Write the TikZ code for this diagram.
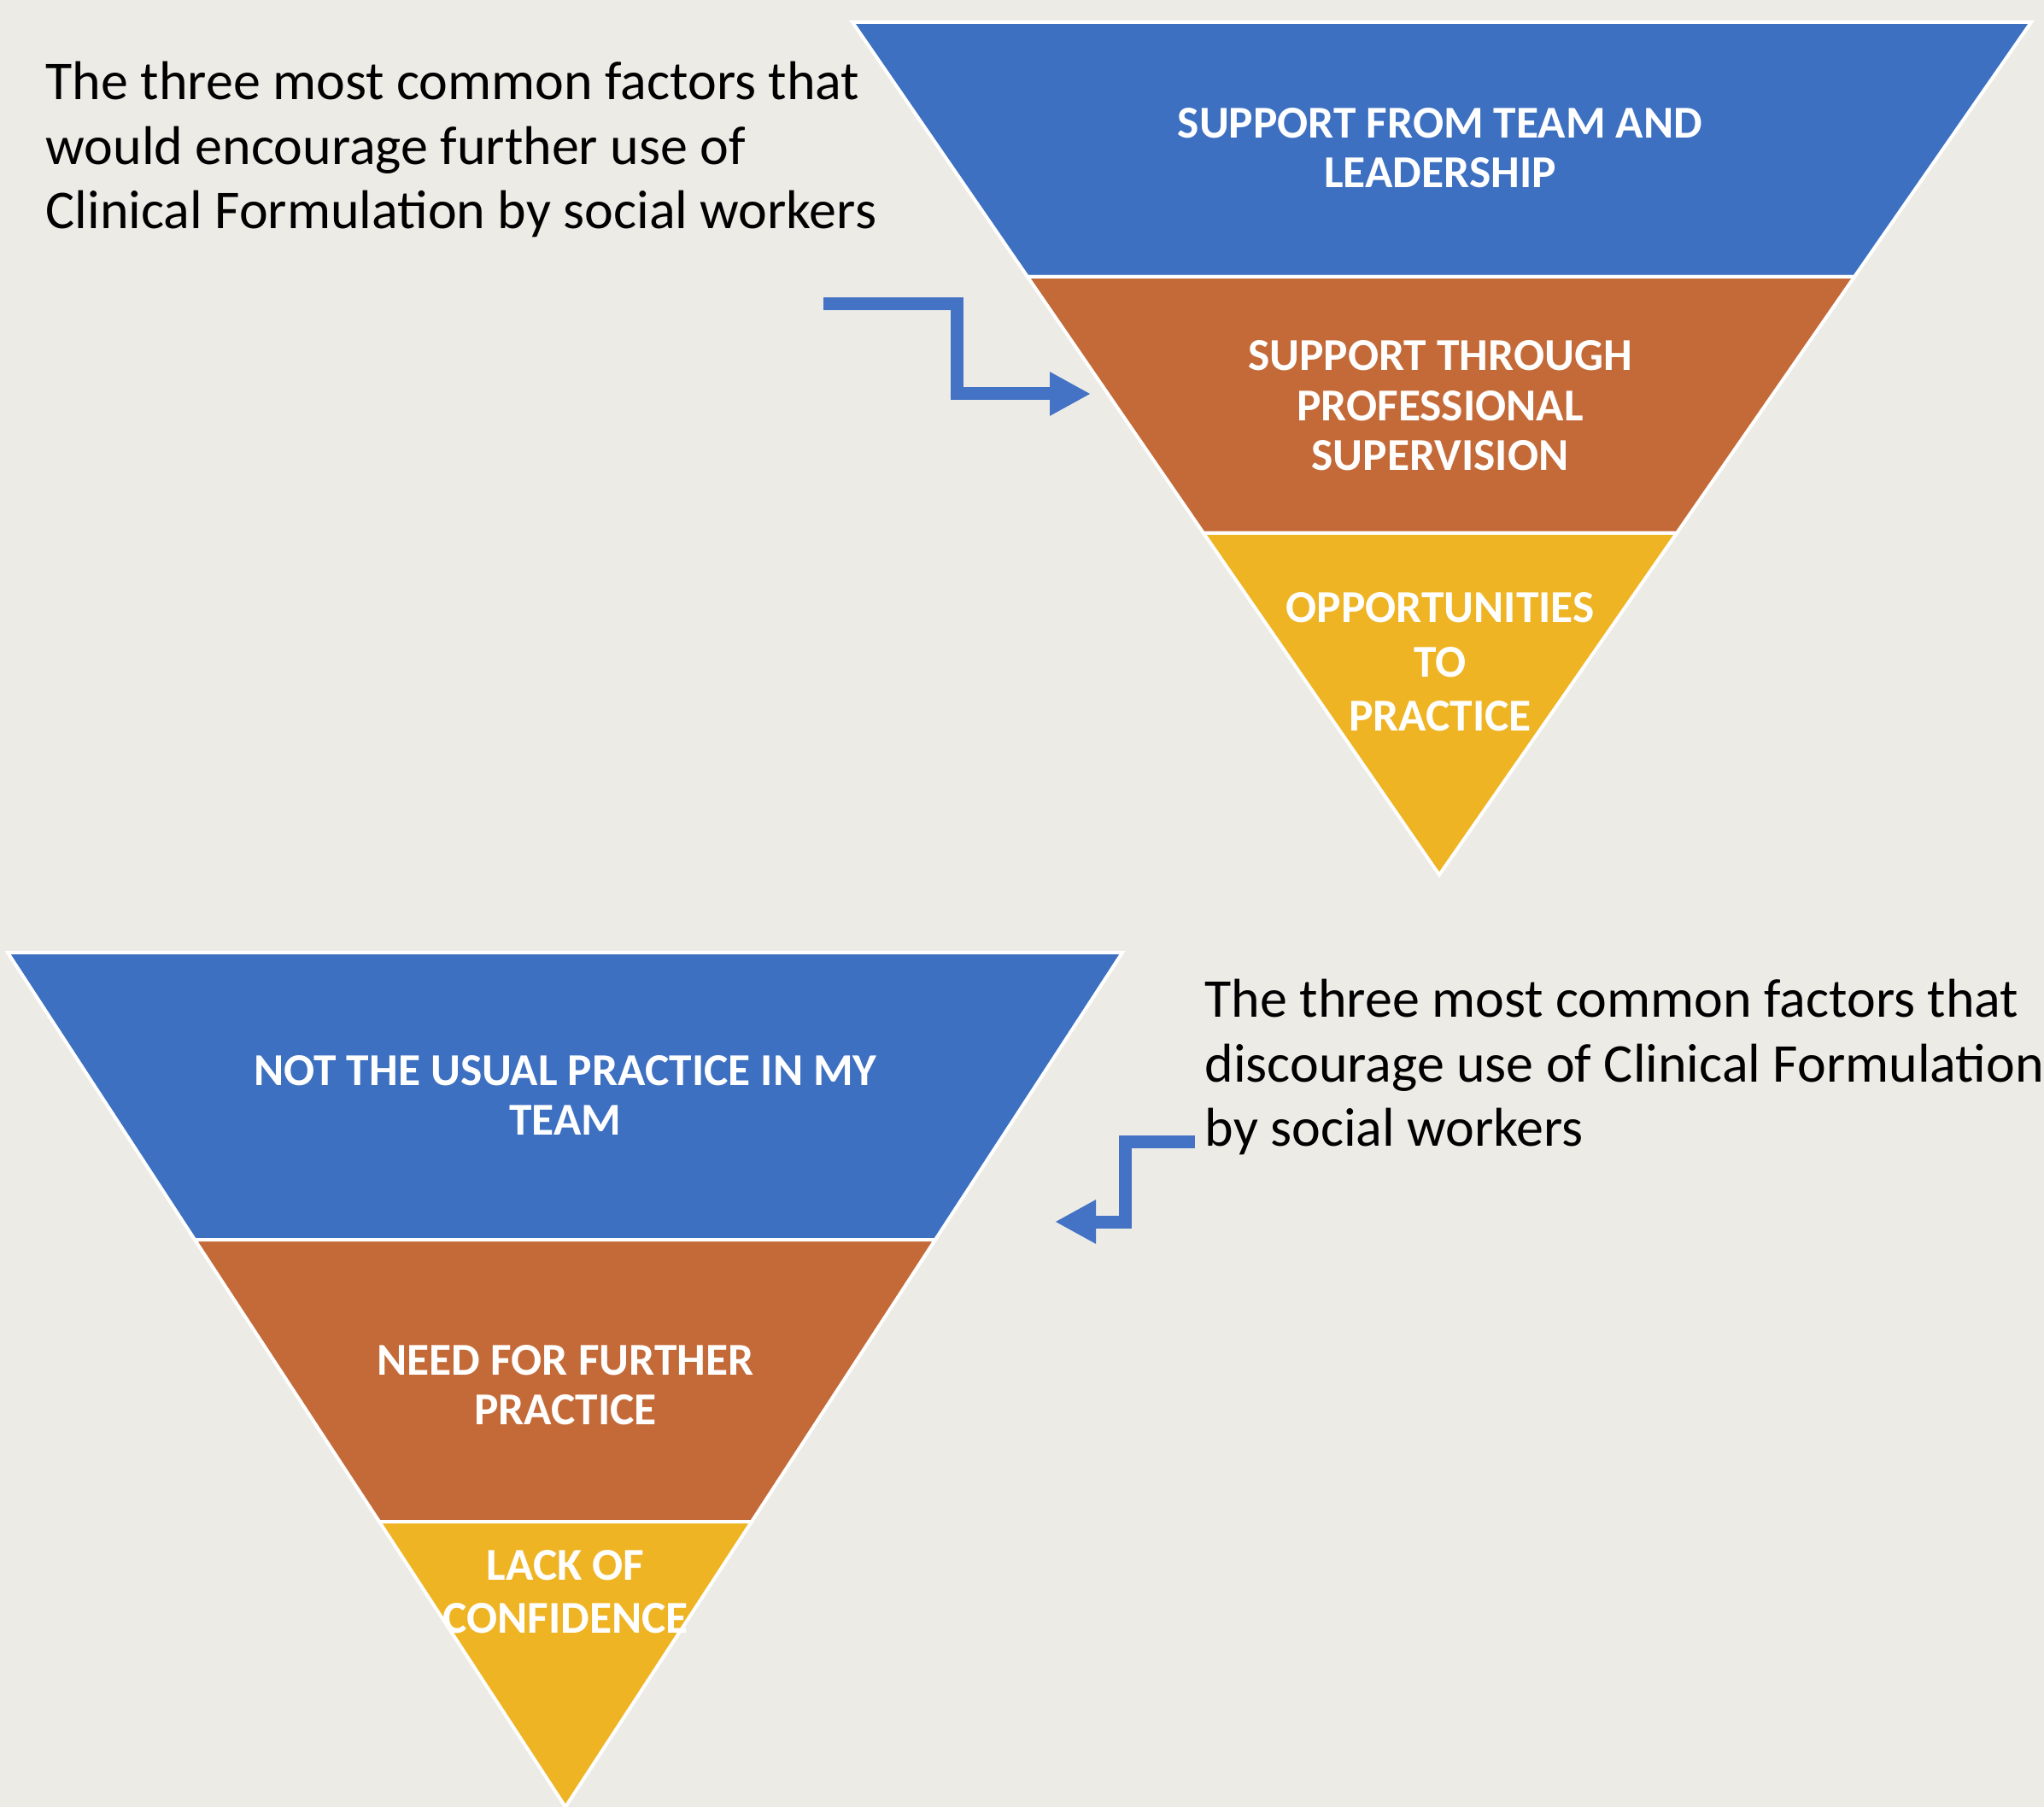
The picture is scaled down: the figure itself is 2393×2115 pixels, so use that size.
\documentclass[tikz,border=0pt]{standalone}
\usepackage{fontspec}
\setmainfont{Carlito}
\usetikzlibrary{arrows.meta}

\definecolor{bandblue}{HTML}{3D70C1}
\definecolor{bandorange}{HTML}{C46A38}
\definecolor{bandgold}{HTML}{EFB424}
\definecolor{arrowblue}{HTML}{4472C4}
\definecolor{paper}{HTML}{ECEBE6}

\begin{document}
\begin{tikzpicture}[x=0.1mm, y=-0.1mm]

% Styles for the funnel bands and the texts
\tikzstyle{band}=[draw=white, line width=0.4mm, line join=miter]
\tikzstyle{bandtext}=[text=white, font=\fontsize{15.2}{16.6}\selectfont\bfseries, align=center]
\tikzstyle{caption}=[font=\fontsize{18.2}{21.6}\selectfont, align=left, anchor=base west, inner sep=0pt]
\tikzstyle{elbow}=[draw=arrowblue, line width=1.5mm, line join=miter, -{Triangle[width=4.8mm, length=4.8mm]}]

% Background
\fill[paper] (0,0) rectangle (2393,2115);
\useasboundingbox (0,0) rectangle (2393,2115);

% Top funnel: what encourages
\filldraw[band, fill=bandblue] (998,26) -- (2378,26) -- (2171,324) -- (1203,324) -- cycle;
\filldraw[band, fill=bandorange] (1203,324) -- (2171,324) -- (1963,624) -- (1409,624) -- cycle;
\filldraw[band, fill=bandgold] (1409,624) -- (1963,624) -- (1685,1024) -- cycle;

\node[bandtext] (teamlead) at (1686,173) {SUPPORT FROM TEAM AND\\LEADERSHIP};
\node[bandtext] (supervision) at (1686,475) {SUPPORT THROUGH\\PROFESSIONAL\\SUPERVISION};
\node[bandtext, font=\fontsize{15.2}{18.1}\selectfont\bfseries] (opportunities) at (1686,775) {OPPORTUNITIES\\TO\\PRACTICE};

% Bottom funnel: what discourages
\filldraw[band, fill=bandblue] (9,1115) -- (1314,1115) -- (1095,1451) -- (228,1451) -- cycle;
\filldraw[band, fill=bandorange] (228,1451) -- (1095,1451) -- (880,1781) -- (444,1781) -- cycle;
\filldraw[band, fill=bandgold] (444,1781) -- (880,1781) -- (662,2115) -- cycle;

\node[bandtext] (usual) at (662,1282) {NOT THE USUAL PRACTICE IN MY\\TEAM};
\node[bandtext] (further) at (662,1621) {NEED FOR FURTHER\\PRACTICE};
\node[bandtext, font=\fontsize{15.2}{17.8}\selectfont\bfseries] (confidence) at (662,1863) {LACK OF\\CONFIDENCE};

% Captions (anchored on the baseline of their last line)
\node[caption] (encourage) at (53,268) {The three most common factors that\\would encourage further use of\\Clinical Formulation by social workers};
\node[caption] (discourage) at (1410,1342) {The three most common factors that\\discourage use of Clinical Formulation\\by social workers};

% Elbow arrows
\coordinate (encStart) at (964,356);
\coordinate (encEnd) at (1277,461);
\coordinate (discStart) at (1399,1337);
\coordinate (discEnd) at (1235,1430);

\draw[elbow] (encStart) -- (1120,356) -- (1120,461) -- (encEnd);
\draw[elbow] (discStart) -- (1317,1337) -- (1317,1430) -- (discEnd);

\end{tikzpicture}
\end{document}
